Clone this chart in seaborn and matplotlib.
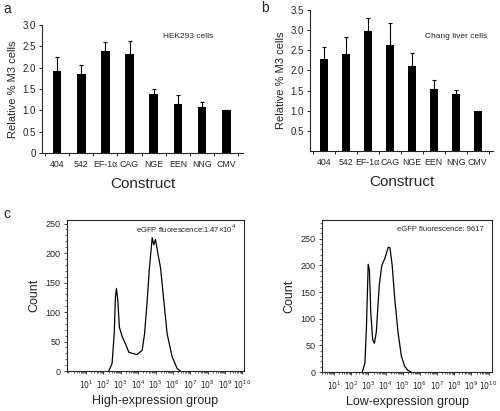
import numpy as np
import pandas as pd
import matplotlib
matplotlib.use("Agg")
import matplotlib.pyplot as plt
import seaborn as sns
from matplotlib.ticker import MultipleLocator, FixedLocator, LogLocator, NullFormatter

sns.set_style("ticks")
plt.rcParams["font.family"] = ["Liberation Sans", "DejaVu Sans"]

constructs = ["404", "542", "EF-1α", "CAG", "NGE", "EEN", "NNG", "CMV"]
hek_mean = [1.92, 1.86, 2.38, 2.31, 1.39, 1.15, 1.08, 1.0]
hek_err = [0.34, 0.20, 0.21, 0.31, 0.12, 0.21, 0.12, 0.0]
chang_mean = [2.28, 2.41, 2.98, 2.63, 2.11, 1.53, 1.41, 1.0]
chang_err = [0.31, 0.41, 0.33, 0.54, 0.32, 0.22, 0.11, 0.0]

# flow cytometry histograms, log10 fluorescence vs count
high_log = [2.31, 2.50, 2.62, 2.69, 2.75, 2.83, 2.92, 3.08, 3.27, 3.46, 3.65, 3.94,
            4.23, 4.37, 4.52, 4.65, 4.81, 4.90, 5.00, 5.15, 5.29, 5.48, 5.67, 5.96,
            6.25, 6.44]
high_count = [0, 13, 63, 125, 140, 119, 74, 58, 46, 32, 30, 28,
              35, 63, 119, 175, 226, 214, 223, 197, 175, 119, 63, 24,
              4, 0]
low_log = [2.65, 2.80, 2.89, 2.99, 3.06, 3.14, 3.25, 3.35, 3.46, 3.63, 3.78, 3.97,
           4.16, 4.26, 4.39, 4.54, 4.73, 4.92, 5.11, 5.30, 5.49]
low_count = [0, 17, 86, 202, 192, 111, 61, 54, 74, 161, 199, 214,
             234, 233, 199, 136, 74, 30, 11, 3, 0]

fig = plt.figure(figsize=(5, 4.11), dpi=100)
W, H = 500, 411


def px_axes(x0, y0, x1, y1):
    return fig.add_axes([x0 / W, 1 - y1 / H, (x1 - x0) / W, (y1 - y0) / H])


def bar_panel(ax, means, errs, ymax, yticks, note, note_xy):
    df = pd.DataFrame({"construct": constructs, "value": means})
    sns.barplot(data=df, x="construct", y="value", color="black", width=0.36,
                errorbar=None, ax=ax, saturation=1, linewidth=0)
    ax.errorbar(range(len(constructs)), means, yerr=[np.zeros(len(errs)), errs],
                fmt="none", ecolor="black", elinewidth=0.8, capsize=1.5, capthick=0.8)
    ax.set_xlim(-0.62, len(constructs) - 0.31)
    ax.set_ylim(0, ymax)
    ax.set_yticks(yticks)
    ax.set_yticklabels([("%.1f" % t) if t > 0 else "0" for t in yticks])
    ax.xaxis.set_minor_locator(FixedLocator(np.arange(-0.5, len(constructs), 1)))
    ax.tick_params(axis="x", which="major", length=0, labelsize=6.3, pad=5)
    ax.tick_params(axis="x", which="minor", length=2.5, width=0.7)
    ax.tick_params(axis="y", length=2.5, width=0.7, labelsize=7, pad=2)
    sns.despine(ax=ax)
    for s in ["left", "bottom"]:
        ax.spines[s].set_linewidth(0.8)
    ax.set_xlabel("Construct", fontsize=11, labelpad=6)
    ax.set_ylabel("Relative % M3 cells", fontsize=8, labelpad=3)
    ax.text(note_xy[0], note_xy[1], note, transform=ax.transAxes, fontsize=6,
            ha="left", va="center")


ax_a = px_axes(42, 25, 243, 153)
bar_panel(ax_a, hek_mean, hek_err, 3.0, [0, 0.5, 1.0, 1.5, 2.0, 2.5, 3.0],
          "HEK293 cells", (0.6, 0.91))

ax_b = px_axes(310, 10, 493, 151)
bar_panel(ax_b, chang_mean, chang_err, 3.5, [0.5, 1.0, 1.5, 2.0, 2.5, 3.0, 3.5],
          "Chang liver cells", (0.63, 0.81))


def hist_panel(ax, logs, counts, xlim, ymax, note, note_x, xlabel):
    sns.lineplot(x=10 ** np.array(logs), y=counts, color="black", lw=0.9, ax=ax)
    ax.set_xscale("log")
    ax.set_xlim(10 ** xlim[0], 10 ** xlim[1])
    ax.set_ylim(0, ymax)
    dec = [10.0 ** k for k in range(1, 11)]
    ax.set_xticks(dec)
    ax.set_xticklabels(["$10^{%d}$" % k for k in range(1, 11)])
    ax.xaxis.set_minor_locator(LogLocator(base=10, subs=np.arange(2, 10), numticks=20))
    ax.xaxis.set_minor_formatter(NullFormatter())
    ax.set_yticks([0, 50, 100, 150, 200, 250])
    ax.yaxis.set_minor_locator(MultipleLocator(10))
    ax.tick_params(axis="x", which="major", length=2.5, width=0.6, labelsize=5.5, pad=3)
    ax.tick_params(axis="x", which="minor", length=1.5, width=0.5)
    ax.tick_params(axis="y", which="major", length=2.5, width=0.6, labelsize=6.5, pad=2)
    ax.tick_params(axis="y", which="minor", length=1.5, width=0.5)
    for s in ax.spines.values():
        s.set_linewidth(0.8)
    ax.set_ylabel("Count", fontsize=9, labelpad=4)
    ax.set_xlabel(xlabel, fontsize=9, labelpad=3)
    ax.text(note_x, 0.94, note, transform=ax.transAxes, fontsize=5.5,
            ha="left", va="center")


ax_c1 = px_axes(67, 220, 244, 371)
hist_panel(ax_c1, high_log, high_count, (-0.1, 10.1), 256,
           "eGFP fluorescence:1.47×10$^{4}$", 0.39, "High-expression group")

ax_c2 = px_axes(322, 220, 492, 372)
hist_panel(ax_c2, low_log, low_count, (0.3, 10.2), 285,
           "eGFP fluorescence: 9617", 0.44, "Low-expression group")

fig.text(3 / W, 1 - 9 / H, "a", fontsize=10, ha="left", va="center")
fig.text(261 / W, 1 - 8 / H, "b", fontsize=10, ha="left", va="center")
fig.text(3 / W, 1 - 214 / H, "c", fontsize=10, ha="left", va="center")

fig.savefig("out.png", dpi=100)
